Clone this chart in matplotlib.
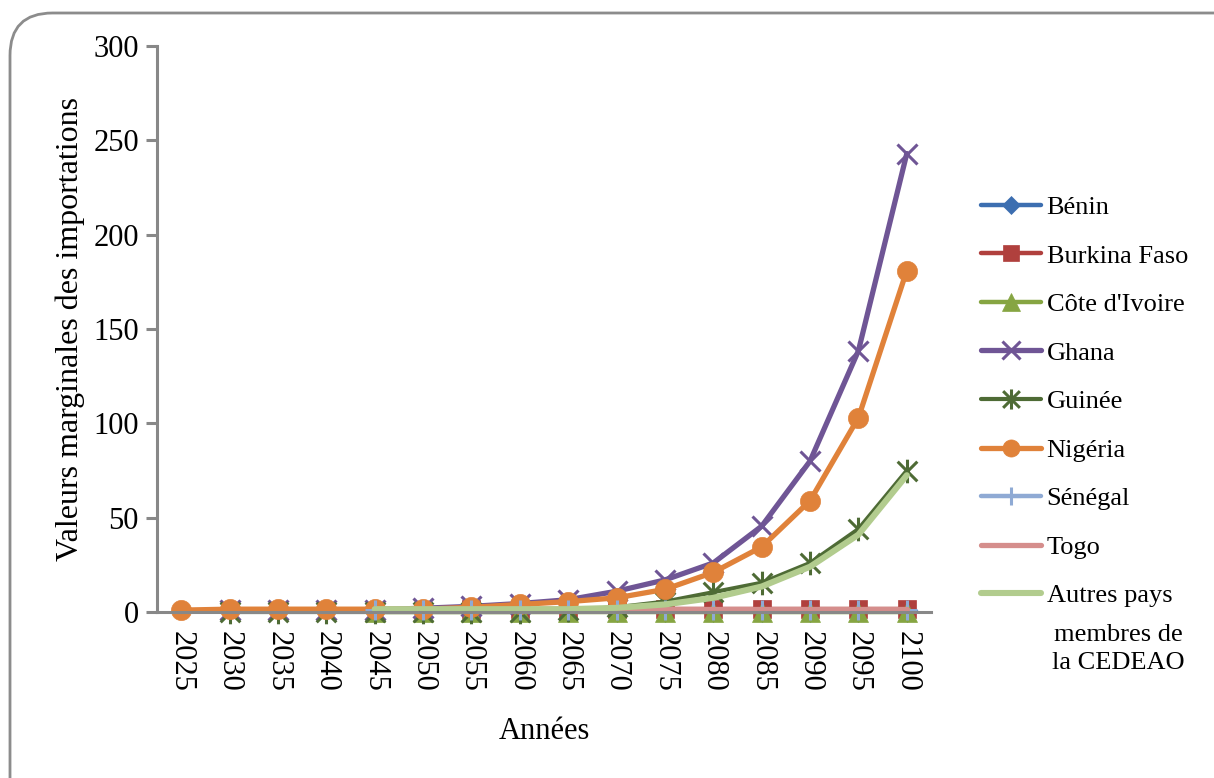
import numpy as np
import matplotlib
import matplotlib.pyplot as plt
from matplotlib.path import Path
from matplotlib.patches import FancyBboxPatch

matplotlib.use("Agg")

plt.rcParams["font.family"] = ["Liberation Serif", "DejaVu Serif"]

years = ["2025", "2030", "2035", "2040", "2045", "2050", "2055", "2060",
         "2065", "2070", "2075", "2080", "2085", "2090", "2095", "2100"]

nan = np.nan
benin = [nan, nan, nan, nan, 0.5, 0.5, 0.5, 0.5, 0.5, 0.5, 0.5, 0.5, 0.5, 0.5, 0.5, 0.5]
burkina = [nan, nan, nan, nan, nan, nan, 1.5, 1.5, 1.5, 1.5, 1.5, 1.5, 1.5, 1.5, 1.5, 1.5]
cote_ivoire = [nan, nan, nan, nan, 0, 0, 0, 0, 0, 0, 0, 0, 0, 0, 0, 0]
ghana = [nan, 1, 1, 1, 1.2, 2, 3, 4.5, 6.5, 11, 17, 26, 45.5, 80, 138.5, 243]
guinee = [nan, 0, 0, 0, 0, 0, 0, 0, 1, 2.5, 5.5, 10.5, 15.5, 26, 44, 75]
nigeria = [1, 1.5, 1.5, 1.5, 1.5, 1.5, 2.5, 4, 5.5, 7.5, 12, 21, 34.5, 59, 103, 181]
senegal = [nan, nan, nan, nan, 1, 1, 1, 1, 1, 1, 1, 1, 1, 1, 1, 1]
togo = [nan, nan, nan, nan, 1.5, 1.5, 1.5, 1.5, 1.5, 1.5, 1.5, 1.5, 1.5, 1.5, 1.5, 1.5]
autres = [nan, nan, nan, nan, 1.5, 1.5, 1.5, 1.5, 1.5, 2.2, 4, 7.5, 13.5, 24, 41, 72.5]

# asterisk marker: two diagonals plus a vertical stroke
star_path = Path(
    [(-1, -1), (1, 1), (-1, 1), (1, -1), (0, -1.2), (0, 1.2)],
    [Path.MOVETO, Path.LINETO, Path.MOVETO, Path.LINETO, Path.MOVETO, Path.LINETO],
)

series = [
    ("Bénin", benin, "#3C6EB0", "D", 11, 3.2),
    ("Burkina Faso", burkina, "#B0403D", "s", 13, 3.2),
    ("Côte d'Ivoire", cote_ivoire, "#86A542", "^", 15, 3.2),
    ("Ghana", ghana, "#6F5595", "x", 15, 3.8),
    ("Guinée", guinee, "#4E6B35", star_path, 17, 3.0),
    ("Nigéria", nigeria, "#E0823A", "o", 14.5, 3.8),
    ("Sénégal", senegal, "#8FAAD4", "+", 15, 3.2),
    ("Togo", togo, "#D58E8C", None, 0, 3.8),
    ("Autres pays", autres, "#B2CC8E", None, 0, 4.4),
]

fig = plt.figure(figsize=(12.14, 7.78), dpi=100)
ax = fig.add_axes([157 / 1214, 1 - 612 / 778, (931 - 157) / 1214, (612 - 46) / 778])

x = np.arange(len(years))
handles = []
for name, vals, color, marker, ms, lw in series:
    filled = marker in ("D", "s", "^", "o")
    line, = ax.plot(
        x, vals, color=color, lw=lw, marker=marker, markersize=ms,
        markerfacecolor=color if filled else "none",
        markeredgecolor=color, markeredgewidth=2.2 if not filled else 0.5,
        solid_capstyle="round", clip_on=False, label=name,
    )
    handles.append(line)

ax.set_xlim(-0.5, len(years) - 0.5)
ax.set_ylim(0, 300)
ax.set_yticks(np.arange(0, 301, 50))
ax.set_xticks(x)
ax.set_xticklabels(years, rotation=-90, fontsize=22)
ax.tick_params(axis="y", labelsize=22, length=8, width=2.2, color="#888888", pad=5)
ax.tick_params(axis="x", length=0, pad=14)

for side in ("top", "right"):
    ax.spines[side].set_visible(False)
for side in ("left", "bottom"):
    ax.spines[side].set_color("#888888")
    ax.spines[side].set_linewidth(2.2)

ax.set_ylabel("Valeurs marginales des importations", fontsize=23, labelpad=6)
ax.set_xlabel("Années", fontsize=22, labelpad=18)

leg = fig.legend(
    handles=handles, loc="upper left", bbox_to_anchor=(970 / 1214, 1 - 185 / 778),
    frameon=False, fontsize=19, handlelength=2.3, handletextpad=0.2,
    labelspacing=0.95, borderaxespad=0,
)
for h in leg.legend_handles:
    h.set_markersize(h.get_markersize() * 0.85)

fig.text(1118 / 1214, 1 - 649 / 778, "membres de\nla CEDEAO", fontsize=19,
         ha="center", va="center", linespacing=1.35)

# rounded frame; it runs past the right and bottom edges of the figure
border = FancyBboxPatch(
    (10 / 1214, -0.2), 1.2, 1.2 - 13 / 778,
    boxstyle="round,pad=0,rounding_size=0.035",
    transform=fig.transFigure, facecolor="none", edgecolor="#8c8c8c",
    lw=2.0, mutation_aspect=1214 / 778,
)
fig.patches.append(border)

fig.savefig("out.png", dpi=100)
